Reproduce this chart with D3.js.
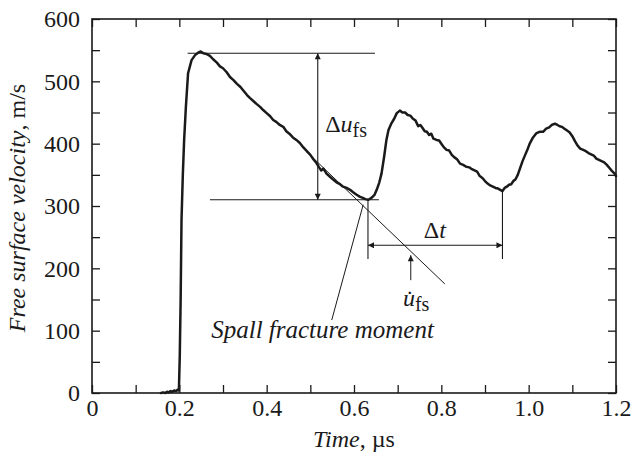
<!DOCTYPE html>
<html>
<head>
<meta charset="utf-8">
<script src="https://cdn.jsdelivr.net/npm/d3@7"></script>
<style>
  html, body { margin: 0; padding: 0; background: #fff; }
  svg { display: block; }
</style>
</head>
<body>
<svg id="chart" width="634" height="457"></svg>
<script>
// Free-surface velocity profile (time in µs, velocity in m/s)
const timeUs = [
  0.158, 0.163, 0.168, 0.172, 0.176, 0.180, 0.184, 0.188, 0.192, 0.196, 0.199,
  0.201, 0.203, 0.205, 0.208, 0.211, 0.215, 0.220, 0.228, 0.236, 0.243, 0.249,
  0.255, 0.262, 0.270, 0.278, 0.286, 0.293, 0.300, 0.308, 0.316, 0.324, 0.332,
  0.340, 0.347, 0.355, 0.362, 0.370, 0.378, 0.385, 0.392, 0.400, 0.408, 0.415,
  0.422, 0.430, 0.438, 0.445, 0.452, 0.460, 0.468, 0.476, 0.484, 0.492, 0.500,
  0.507, 0.514, 0.520, 0.525, 0.530, 0.537, 0.545, 0.553, 0.560, 0.568, 0.575,
  0.583, 0.591, 0.598, 0.606, 0.613, 0.620, 0.626, 0.633, 0.640, 0.647, 0.652,
  0.658, 0.663, 0.669, 0.674, 0.679, 0.686, 0.692, 0.698, 0.705, 0.711, 0.717,
  0.723, 0.729, 0.735, 0.741, 0.747, 0.752, 0.757, 0.762, 0.767, 0.772, 0.777,
  0.782, 0.789, 0.795, 0.800, 0.806, 0.812, 0.818, 0.824, 0.830, 0.836, 0.843,
  0.850, 0.857, 0.864, 0.870, 0.876, 0.882, 0.888, 0.894, 0.900, 0.906, 0.912,
  0.918, 0.924, 0.930, 0.935, 0.940, 0.945, 0.950, 0.955, 0.960, 0.965, 0.970,
  0.975, 0.980, 0.986, 0.992, 0.998, 1.003, 1.010, 1.018, 1.025, 1.033, 1.040,
  1.047, 1.053, 1.060, 1.066, 1.071, 1.076, 1.082, 1.088, 1.094, 1.100, 1.106,
  1.112, 1.118, 1.125, 1.131, 1.137, 1.143, 1.149, 1.155, 1.161, 1.167, 1.173,
  1.179, 1.185, 1.191, 1.197, 1.200
];
const velocity = [
  0, 1, 0, 2, 1, 3, 2, 4, 3, 5, 4,
  60, 150, 278, 350, 406, 459, 513, 534, 542, 546, 548,
  545, 544, 541, 535, 530, 524, 521, 515, 507, 502, 496,
  491, 485, 478, 473, 468, 463, 459, 454, 449, 444, 438,
  435, 430, 427, 420, 416, 410, 406, 401, 394, 388, 382,
  375, 369, 362, 357, 360, 352, 347, 342, 338, 335, 331,
  329, 326, 322, 318, 315, 313, 311, 310, 313, 318, 326,
  338, 352, 379, 405, 422, 433, 440, 449, 453, 450, 450,
  446, 445, 440, 437, 428, 430, 425, 420, 419, 414, 416,
  408, 406, 405, 400, 394, 390, 389, 382, 378, 375, 368,
  366, 363, 362, 359, 357, 355, 348, 345, 340, 336, 333,
  331, 329, 328, 326, 324, 329, 331, 334, 335, 340, 343,
  350, 360, 372, 382, 392, 401, 410, 417, 419, 419, 424,
  426, 430, 432, 430, 428, 427, 424, 421, 418, 412, 404,
  397, 392, 390, 388, 385, 383, 381, 376, 374, 372, 370,
  366, 361, 356, 352, 348
];

// Axis ticks
const xTicks = [0, 0.1, 0.2, 0.3, 0.4, 0.5, 0.6, 0.7, 0.8, 0.9, 1.0, 1.1, 1.2];
const xTickLabels = ["0", "", "0.2", "", "0.4", "", "0.6", "", "0.8", "", "1.0", "", "1.2"];
const yTicks = [0, 50, 100, 150, 200, 250, 300, 350, 400, 450, 500, 550, 600];
const yTickLabels = ["0", "", "100", "", "200", "", "300", "", "400", "", "500", "", "600"];

// Spall analysis markers
const peakVelocity = 545;      // top of the pull-back signal
const minVelocity = 310;       // pull-back minimum
const spallTime = 0.632;       // spall fracture moment
const secondMinTime = 0.940;   // next minimum
const secondMinVelocity = 324;

const svg = d3.select("#chart");
const ink = "#1a1a1a";
const serif = "Liberation Serif";
const plotLeft = 92, plotRight = 616, plotTop = 19, plotBottom = 393;
const fontSize = 24;

const x = d3.scaleLinear().domain([0, 1.2]).range([plotLeft, plotRight]);
const y = d3.scaleLinear().domain([0, 600]).range([plotBottom, plotTop]);

// arrowhead marker
const defs = svg.append("defs");
defs.append("marker")
  .attr("id", "arrow")
  .attr("viewBox", "0 0 10 10")
  .attr("refX", 10).attr("refY", 5)
  .attr("markerWidth", 9).attr("markerHeight", 6)
  .attr("markerUnits", "userSpaceOnUse")
  .attr("orient", "auto-start-reverse")
  .append("path").attr("d", "M0,0 L10,5 L0,10 Z").attr("fill", ink);

// axes: ticks point inward on all four sides
const tickLen = 8;
const fmtX = (d, i) => xTickLabels[i];
const fmtY = (d, i) => yTickLabels[i];

const gx = svg.append("g").attr("transform", `translate(0,${plotBottom})`)
  .call(d3.axisBottom(x).tickValues(xTicks).tickFormat(fmtX)
    .tickSizeInner(-tickLen).tickSizeOuter(0).tickPadding(6));
const gy = svg.append("g").attr("transform", `translate(${plotLeft},0)`)
  .call(d3.axisLeft(y).tickValues(yTicks).tickFormat(fmtY)
    .tickSizeInner(-tickLen).tickSizeOuter(0).tickPadding(12));
const gxt = svg.append("g").attr("transform", `translate(0,${plotTop})`)
  .call(d3.axisTop(x).tickValues(xTicks).tickFormat("")
    .tickSizeInner(-tickLen).tickSizeOuter(0));
const gyr = svg.append("g").attr("transform", `translate(${plotRight},0)`)
  .call(d3.axisRight(y).tickValues(yTicks).tickFormat("")
    .tickSizeInner(-tickLen).tickSizeOuter(0));

[gx, gy, gxt, gyr].forEach(g => {
  g.attr("font-family", null).attr("font-size", null);
  g.select(".domain").remove();
  g.selectAll(".tick line").attr("stroke", ink).attr("stroke-width", 1.3);
  g.selectAll(".tick text")
    .style("font-family", serif).style("font-size", fontSize + "px").attr("fill", ink);
});

// frame
svg.append("rect")
  .attr("x", plotLeft).attr("y", plotTop)
  .attr("width", plotRight - plotLeft).attr("height", plotBottom - plotTop)
  .attr("fill", "none").attr("stroke", ink).attr("stroke-width", 1.6);

function label(px, py) {
  return svg.append("text").attr("x", px).attr("y", py)
    .style("font-family", serif).style("font-size", fontSize + "px").attr("fill", ink);
}

// axis titles
const yTitle = svg.append("text")
  .attr("transform", `translate(25,${(plotTop + plotBottom) / 2 + 2}) rotate(-90)`)
  .attr("text-anchor", "middle")
  .style("font-family", serif).style("font-size", fontSize + "px").attr("fill", ink);
yTitle.append("tspan").style("font-style", "italic").text("Free surface velocity");
yTitle.append("tspan").text(", m/s");

const xTitle = label((plotLeft + plotRight) / 2, 447).attr("text-anchor", "middle");
xTitle.append("tspan").style("font-style", "italic").text("Time");
xTitle.append("tspan").text(", \u00b5s");

// annotation lines
const thin = 1.1;
function seg(x1, y1, x2, y2, opts = {}) {
  const l = svg.append("line")
    .attr("x1", x(x1)).attr("y1", y(y1)).attr("x2", x(x2)).attr("y2", y(y2))
    .attr("stroke", ink).attr("stroke-width", opts.w || thin);
  if (opts.start) l.attr("marker-start", "url(#arrow)");
  if (opts.end) l.attr("marker-end", "url(#arrow)");
  return l;
}

// peak and minimum levels with the Δu_fs arrow
seg(0.219, peakVelocity, 0.648, peakVelocity);
seg(0.270, minVelocity, 0.657, minVelocity);
seg(0.517, peakVelocity, 0.517, minVelocity, { start: true, end: true });

// tangent to the unloading part
seg(0.49, 388, 0.808, 175, { w: 1 });

// Δt markers
seg(spallTime, minVelocity, spallTime, 215);
seg(secondMinTime, secondMinVelocity, secondMinTime, 215);
seg(spallTime, 237, secondMinTime, 237, { start: true, end: true });

// u̇_fs pointer
seg(0.730, 181, 0.730, 221, { end: true, w: 1 });

// spall fracture moment pointer
seg(0.549, 117, 0.621, 302, { w: 1 });

// measured profile
const points = timeUs.map((t, i) => [t, velocity[i]]);
svg.append("path")
  .datum(points)
  .attr("fill", "none").attr("stroke", ink).attr("stroke-width", 2.5)
  .attr("stroke-linejoin", "round").attr("stroke-linecap", "round")
  .attr("d", d3.line().x(d => x(d[0])).y(d => y(d[1])));

// labels
const subSize = "20px";
const du = label(x(0.534), y(419));
du.append("tspan").text("\u0394");
du.append("tspan").style("font-style", "italic").text("u");
du.append("tspan").style("font-size", subSize).attr("dy", 5).text("fs");

const dt = label(x(0.785), y(249)).attr("text-anchor", "middle");
dt.append("tspan").text("\u0394");
dt.append("tspan").style("font-style", "italic").text("t");

const ud = label(x(0.712), y(140));
ud.append("tspan").style("font-style", "italic").text("u\u0307");
ud.append("tspan").style("font-size", subSize).attr("dy", 5).text("fs");

label(x(0.273), y(88)).style("font-style", "italic").style("font-size", "25px")
  .text("Spall fracture moment");
</script>
</body>
</html>
